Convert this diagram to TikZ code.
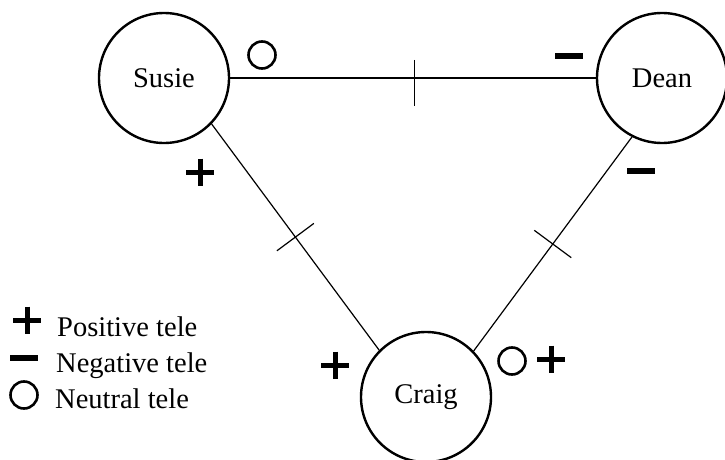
\documentclass[tikz,border=0pt]{standalone}
\usepackage{fontspec}
\setmainfont{Liberation Serif}
\usetikzlibrary{calc}
\tikzset{
  person/.style={circle, draw, line width=2.4pt, minimum size=130pt, inner sep=0pt,
    font=\fontsize{28.5}{33}\selectfont},
  link/.style={line width=1.2pt},
  legendtext/.style={anchor=base west, inner sep=0pt, font=\fontsize{28.5}{33}\selectfont},
  plussign/.pic={\draw[line width=5pt] (-14,0) -- (14,0) (0,-13.5) -- (0,13.5);},
  minussign/.pic={\draw[line width=5.5pt] (-14,0) -- (14,0);},
  neutralsign/.pic={\draw[line width=2.6pt] (0,0) circle (13.5);}
}
\begin{document}
\begin{tikzpicture}[x=1pt,y=-1pt]
\useasboundingbox (0,0) rectangle (725,460);
\node[person] (S) at (164,78) {Susie};
\node[person] (D) at (662,78) {Dean};
\node[person] (C) at (426,397) {Craig};

\draw[link] (S.east) -- coordinate[pos=0.505] (m0) (D.west);
\draw[link] (S.-44) -- coordinate[midway] (m1) (C.135);
\draw[link] (D.-117) -- coordinate[midway] (m2) (C.44);

\draw[link] ($(m0)+(0,-18)$) -- ($(m0)+(0,28)$);
\draw[link] ($(m1)!23pt!90:(C.135)$) -- ($(m1)!23pt!-90:(C.135)$);
\draw[link] ($(m2)!23pt!90:(C.44)$) -- ($(m2)!23pt!-90:(C.44)$);

\pic at (262,55) {neutralsign};
\pic at (569,56) {minussign};
\pic at (641,171) {minussign};
\pic at (200,172) {plussign};
\pic at (335,365) {plussign};
\pic at (512,361) {neutralsign};
\pic at (551,359) {plussign};

\pic at (27,320) {plussign};
\pic at (24,358) {minussign};
\pic at (24,395) {neutralsign};
\node[legendtext] (l1) at (57,336) {Positive tele};
\node[legendtext] (l2) at (56,372) {Negative tele};
\node[legendtext] (l3) at (55,408) {Neutral tele};
\end{tikzpicture}
\end{document}
